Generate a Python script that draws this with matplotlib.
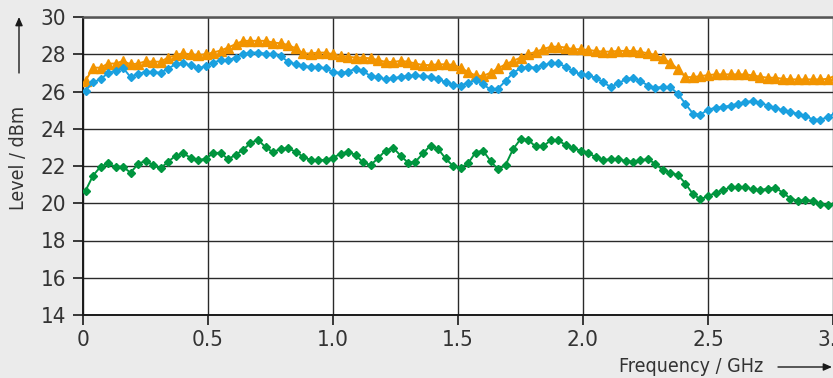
import numpy as np
import matplotlib
matplotlib.use('Agg')
from matplotlib import pyplot as plt

# sweep points: 10 MHz start, 30 MHz step
freq = 0.01 + 0.03 * np.arange(101)

orange = [26.56, 27.28, 27.28, 27.50, 27.50, 27.64, 27.46, 27.50, 27.62, 27.60,
          27.60, 27.82, 27.95, 28.05, 28.00, 27.95, 28.00, 28.09, 28.20, 28.36,
          28.54, 28.72, 28.72, 28.72, 28.72, 28.63, 28.59, 28.50, 28.32, 28.05,
          28.04, 28.09, 28.09, 28.00, 27.91, 27.87, 27.82, 27.82, 27.78, 27.69,
          27.59, 27.59, 27.64, 27.60, 27.50, 27.42, 27.42, 27.46, 27.46, 27.43,
          27.28, 27.05, 26.86, 26.83, 27.01, 27.24, 27.46, 27.64, 27.82, 28.00,
          28.13, 28.27, 28.40, 28.41, 28.36, 28.27, 28.27, 28.23, 28.18, 28.14,
          28.14, 28.18, 28.18, 28.18, 28.13, 28.05, 27.95, 27.78, 27.55, 27.19,
          26.77, 26.77, 26.83, 26.88, 26.92, 26.92, 26.92, 26.92, 26.92, 26.86,
          26.79, 26.74, 26.74, 26.68, 26.65, 26.65, 26.65, 26.65, 26.65, 26.68,
          26.86]

blue = [26.05, 26.50, 26.65, 27.00, 27.10, 27.28, 26.77, 26.95, 27.05, 27.05,
        27.00, 27.23, 27.46, 27.51, 27.42, 27.24, 27.37, 27.55, 27.68, 27.68,
        27.82, 28.00, 28.09, 28.09, 28.03, 28.00, 27.91, 27.60, 27.46, 27.37,
        27.33, 27.33, 27.24, 27.05, 27.00, 27.06, 27.23, 27.10, 26.83, 26.77,
        26.65, 26.70, 26.79, 26.83, 26.86, 26.83, 26.79, 26.68, 26.50, 26.36,
        26.32, 26.47, 26.60, 26.38, 26.11, 26.16, 26.56, 27.01, 27.24, 27.32,
        27.28, 27.41, 27.51, 27.51, 27.33, 27.10, 26.92, 26.86, 26.74, 26.50,
        26.25, 26.43, 26.65, 26.74, 26.56, 26.32, 26.20, 26.25, 26.23, 25.87,
        25.33, 24.81, 24.76, 25.03, 25.12, 25.17, 25.24, 25.35, 25.44, 25.48,
        25.39, 25.24, 25.12, 24.99, 24.88, 24.81, 24.70, 24.49, 24.49, 24.63,
        24.85]

green = [20.67, 21.48, 21.96, 22.14, 21.96, 21.96, 21.64, 22.10, 22.29, 22.05,
         21.87, 22.23, 22.54, 22.68, 22.45, 22.32, 22.38, 22.68, 22.72, 22.36,
         22.60, 22.86, 23.23, 23.41, 23.01, 22.74, 22.92, 22.95, 22.77, 22.50,
         22.32, 22.32, 22.32, 22.45, 22.65, 22.77, 22.59, 22.20, 22.05, 22.41,
         22.83, 22.99, 22.56, 22.18, 22.23, 22.68, 23.10, 22.92, 22.41, 22.00,
         21.91, 22.14, 22.72, 22.83, 22.27, 21.82, 22.05, 22.90, 23.44, 23.41,
         23.05, 23.05, 23.37, 23.37, 23.14, 22.95, 22.83, 22.72, 22.47, 22.32,
         22.36, 22.36, 22.27, 22.23, 22.32, 22.36, 22.11, 21.78, 21.64, 21.51,
         21.06, 20.47, 20.22, 20.38, 20.56, 20.70, 20.85, 20.88, 20.85, 20.74,
         20.70, 20.79, 20.83, 20.56, 20.25, 20.13, 20.16, 20.13, 19.98, 19.89,
         20.02]

xticks = [0, 0.5, 1.0, 1.5, 2.0, 2.5, 3.0]
xlabels = ['0', '0.5', '1.0', '1.5', '2.0', '2.5', '3.0']
yticks = [14, 16, 18, 20, 22, 24, 26, 28, 30]

plt.rcParams['font.family'] = ['DejaVu Sans']
plt.rcParams['font.stretch'] = 'condensed'

W, H = 833, 378
fig = plt.figure(figsize=(W / 100, H / 100), dpi=100, facecolor='#ebebeb')
# axes run past the right edge so that 3.0 sits on the border
ax = fig.add_axes([83 / W, 63 / H, 3.1 * 250 / W, 298 / H])
ax.set_facecolor('white')

ax.plot(freq, orange, color='#f29400', marker='^', markersize=7, lw=1.4, zorder=3)
ax.plot(freq, blue, color='#1aa0df', marker='D', markersize=4.3, lw=1.4, zorder=3)
ax.plot(freq, green, color='#00953e', marker='D', markersize=4.3, lw=1.4, zorder=3)

ax.set_xlim(0, 3.1)
ax.set_ylim(14, 30)
ax.set_xticks(xticks)
ax.set_xticklabels(xlabels)
ax.set_yticks(yticks)
ax.grid(True, color='#2a2a2a', lw=1.0, zorder=1)
ax.set_axisbelow(True)

for s in ['left', 'bottom']:
    ax.spines[s].set_color('#1a1a1a')
    ax.spines[s].set_linewidth(1.4)
ax.spines['top'].set_color('#555555')
ax.spines['top'].set_linewidth(1.8)
ax.spines['right'].set_visible(False)

ax.tick_params(axis='both', direction='out', length=7, width=1.2, color='#1a1a1a',
               labelsize=16, labelcolor='#333333')
ax.tick_params(axis='y', pad=5)
ax.tick_params(axis='x', pad=4)

# axis titles with arrows
fig.text(19 / W, 1 - 158 / H, 'Level / dBm', rotation=90, ha='center', va='center',
         fontsize=14, color='#333333')
fig.text(763 / W, 1 - 366 / H, 'Frequency / GHz', ha='right', va='center',
         fontsize=14, color='#333333')
fig.add_artist(matplotlib.patches.FancyArrowPatch(
    (19 / W, 1 - 73 / H), (19 / W, 1 - 17 / H), transform=fig.transFigure,
    arrowstyle='-|>,head_length=5,head_width=2.2', color='#1a1a1a', lw=1.0,
    shrinkA=0, shrinkB=0))
fig.add_artist(matplotlib.patches.FancyArrowPatch(
    (778 / W, 1 - 367 / H), (832 / W, 1 - 367 / H), transform=fig.transFigure,
    arrowstyle='-|>,head_length=5,head_width=2.2', color='#1a1a1a', lw=1.0,
    shrinkA=0, shrinkB=0))

fig.savefig('out.png', dpi=100, facecolor=fig.get_facecolor())
